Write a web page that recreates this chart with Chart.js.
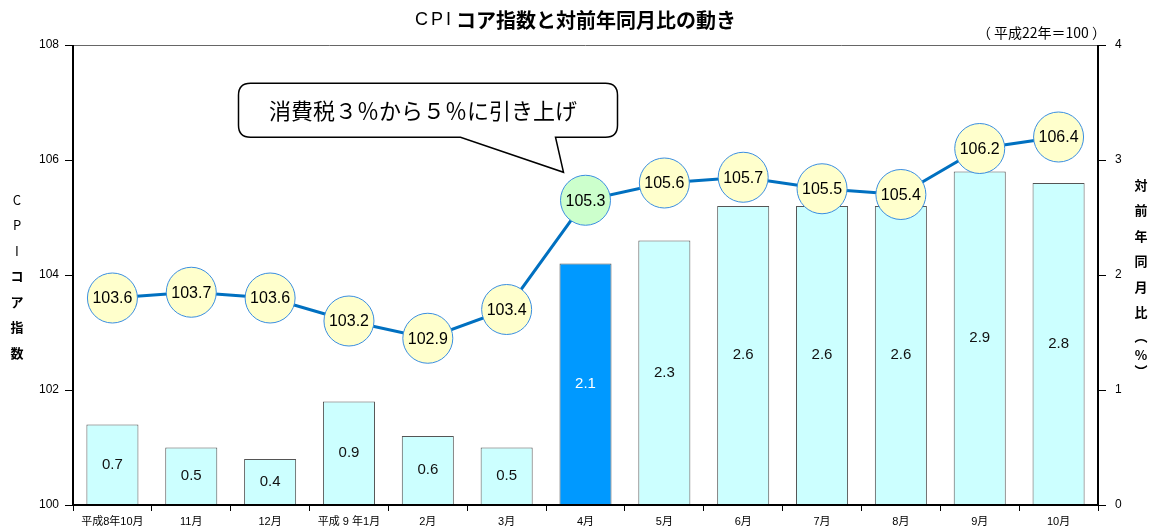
<!DOCTYPE html>
<html>
<head>
<meta charset="utf-8">
<script src="https://cdn.jsdelivr.net/npm/chart.js@4/dist/chart.umd.min.js"></script>
<style>
  html, body { margin: 0; padding: 0; background: #fff; }
  #wrap { width: 1153px; height: 531px; }
</style>
</head>
<body>
<div id="wrap"><canvas id="cpi"></canvas></div>
<script>
var FONT = "'Liberation Sans', Arial, 'Noto Sans CJK JP', sans-serif";
var JP = "'Noto Sans CJK JP', 'Liberation Sans', sans-serif";

var MONTHS = ["平成8年10月", "11月", "12月", "平成 9 年1月", "2月", "3月", "4月", "5月", "6月", "7月", "8月", "9月", "10月"];
var CORE_INDEX = [103.6, 103.7, 103.6, 103.2, 102.9, 103.4, 105.3, 105.6, 105.7, 105.5, 105.4, 106.2, 106.4];
var YOY_RATE = [0.7, 0.5, 0.4, 0.9, 0.6, 0.5, 2.1, 2.3, 2.6, 2.6, 2.6, 2.9, 2.8];
var LEFT_TICKS = [100, 102, 104, 106, 108];
var RIGHT_TICKS = [0, 1, 2, 3, 4];
var TAX_MONTH = 6; // 4月
var NOTE = "消費税３％から５％に引き上げ";

var barFill = YOY_RATE.map(function (v, i) { return i === TAX_MONTH ? "#0099ff" : "#ccffff"; });
var pointFill = CORE_INDEX.map(function (v, i) { return i === TAX_MONTH ? "#ccffcc" : "#ffffcc"; });

var decor = {
    id: "decor",
    afterDatasetsDraw: function (chart) {
        var c = chart.ctx, a = chart.chartArea;
        var x = chart.scales.x, yl = chart.scales.y;
        c.save();
        // frame
        c.strokeStyle = "#666"; c.lineWidth = 1;
        c.beginPath(); c.moveTo(a.left, a.top + 0.5); c.lineTo(a.right, a.top + 0.5); c.stroke();
        c.strokeStyle = "#000"; c.lineWidth = 2;
        c.beginPath(); c.moveTo(a.left, a.top); c.lineTo(a.left, a.bottom); c.lineTo(a.right, a.bottom); c.lineTo(a.right, a.top); c.stroke();

        // bar labels
        c.textAlign = "center"; c.textBaseline = "middle";
        c.font = "15px " + FONT;
        chart.getDatasetMeta(1).data.forEach(function (b, i) {
            c.fillStyle = i === TAX_MONTH ? "#fff" : "#111";
            c.fillText(YOY_RATE[i].toFixed(1), b.x, (b.y + b.base) / 2);
        });
        // point labels
        c.fillStyle = "#000";
        c.font = "16px " + FONT;
        chart.getDatasetMeta(0).data.forEach(function (p, i) {
            c.fillText(CORE_INDEX[i].toFixed(1), p.x, p.y + 1);
        });

        // callout
        var tipX = x.getPixelForValue(TAX_MONTH) - 22, tipY = yl.getPixelForValue(CORE_INDEX[TAX_MONTH]) - 28;
        var bx = tipX - 325, by = tipY - 89, bw = 379, bh = 54, r = 12;
        c.fillStyle = "#fff"; c.strokeStyle = "#000"; c.lineWidth = 1.5;
        c.beginPath();
        c.moveTo(bx + r, by);
        c.lineTo(bx + bw - r, by); c.quadraticCurveTo(bx + bw, by, bx + bw, by + r);
        c.lineTo(bx + bw, by + bh - r); c.quadraticCurveTo(bx + bw, by + bh, bx + bw - r, by + bh);
        c.lineTo(tipX - 8, by + bh);
        c.lineTo(tipX, tipY);
        c.lineTo(tipX - 103, by + bh);
        c.lineTo(bx + r, by + bh); c.quadraticCurveTo(bx, by + bh, bx, by + bh - r);
        c.lineTo(bx, by + r); c.quadraticCurveTo(bx, by, bx + r, by);
        c.closePath(); c.fill(); c.stroke();
        c.fillStyle = "#000"; c.font = "22px " + JP;
        c.fillText(NOTE, bx + bw / 2 - 5, by + bh / 2);

        // title: "CPI" regular + rest bold
        c.textAlign = "left";
        c.font = "18px " + FONT;
        c.letterSpacing = "3px";
        c.fillText("CPI", 415, 20);
        c.letterSpacing = "0px";
        c.font = "bold 20px " + JP;
        c.fillText("コア指数と対前年同月比の動き", 456, 20);
        c.font = "14px " + JP; c.textAlign = "right";
        c.fillText("（ 平成22年＝100 ）", 1106, 33);

        // vertical axis titles
        c.textAlign = "center";
        ["C", "P", "I", "コ", "ア", "指", "数"].forEach(function (ch, i) {
            c.font = (i < 3 ? "13px " : "bold 13px ") + JP;
            c.fillText(ch, 17, 200 + i * 25.5);
        });
        c.font = "bold 13px " + JP;
        ["対", "前", "年", "同", "月", "比", "︵", "%", "︶"].forEach(function (ch, i) {
            var yy = i < 6 ? 185 + i * 25.5 : [336, 355, 371][i - 6];
            c.fillText(ch, 1141, yy);
        });
        c.restore();
    }
};

new Chart(document.getElementById("cpi"), {
    type: "bar",
    data: {
        labels: MONTHS,
        datasets: [
            {
                type: "line",
                label: "CPIコア指数",
                data: CORE_INDEX,
                yAxisID: "y",
                borderColor: "#0070c0",
                borderWidth: 3,
                pointRadius: 25,
                pointHoverRadius: 25,
                pointBackgroundColor: pointFill,
                pointBorderColor: "#3a8ee0",
                pointBorderWidth: 1,
                tension: 0,
                order: 0
            },
            {
                label: "対前年同月比",
                data: YOY_RATE,
                yAxisID: "y1",
                backgroundColor: barFill,
                borderColor: "#555",
                borderWidth: 1,
                barPercentage: 0.66,
                categoryPercentage: 1,
                order: 1
            }
        ]
    },
    options: {
        responsive: true,
        maintainAspectRatio: false,
        animation: false,
        layout: { padding: { top: 45, left: 0, right: 0, bottom: 0 } },
        plugins: { legend: { display: false }, tooltip: { enabled: false }, title: { display: false } },
        scales: {
            x: {
                offset: true,
                grid: { offset: true, drawOnChartArea: false, tickLength: 6, color: "#000" },
                border: { display: false },
                ticks: { color: "#000", font: { size: 11, family: FONT }, padding: 4, maxRotation: 0, autoSkip: false },
                afterFit: function (s) { s.height = 26; }
            },
            y: {
                position: "left",
                min: 100, max: 108,
                afterBuildTicks: function (s) { s.ticks = LEFT_TICKS.map(function (v) { return { value: v }; }); },
                grid: { drawOnChartArea: false, tickLength: 8, color: "#000" },
                border: { display: false },
                ticks: { color: "#000", font: { size: 12, family: FONT }, padding: 6 },
                afterFit: function (s) { s.width = 73; }
            },
            y1: {
                position: "right",
                min: 0, max: 4,
                afterBuildTicks: function (s) { s.ticks = RIGHT_TICKS.map(function (v) { return { value: v }; }); },
                grid: { drawOnChartArea: false, tickLength: 8, color: "#000" },
                border: { display: false },
                ticks: { color: "#000", font: { size: 12, family: FONT }, padding: 9 },
                afterFit: function (s) { s.width = 55; }
            }
        }
    },
    plugins: [decor]
});
</script>
</body>
</html>
